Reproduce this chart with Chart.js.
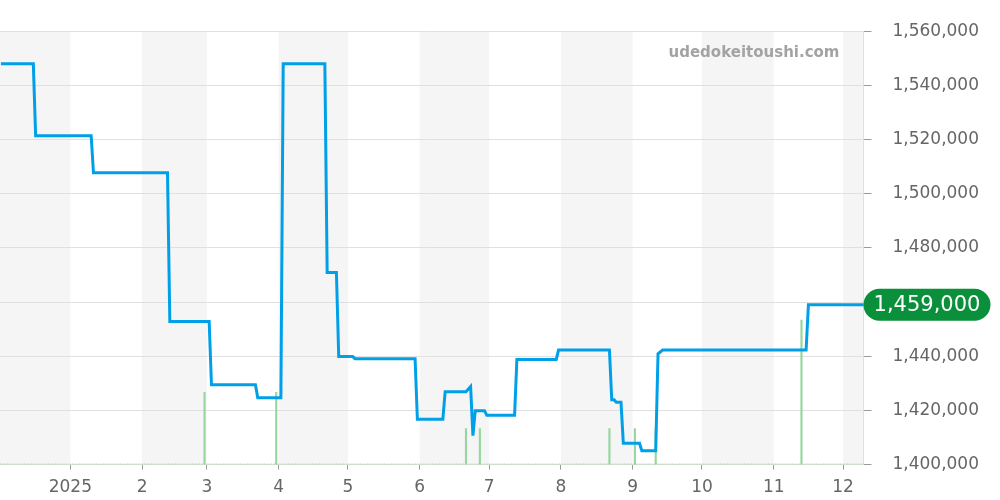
<!DOCTYPE html>
<html>
<head>
<meta charset="utf-8">
<script src="https://cdn.jsdelivr.net/npm/chart.js@4.4.1/dist/chart.umd.min.js"></script>
<style>
  html, body { margin: 0; padding: 0; background: #ffffff; }
  #wrap { width: 1000px; height: 500px; }
</style>
</head>
<body>
<div id="wrap"><canvas id="graficoPreco"></canvas></div>
<script>
const priceDates = [
    '2024-12-02', '2024-12-16', '2024-12-17', '2025-01-10', '2025-01-11',
    '2025-02-12', '2025-02-13', '2025-03-02', '2025-03-03', '2025-03-22',
    '2025-03-23', '2025-04-02', '2025-04-03', '2025-04-21', '2025-04-22',
    '2025-04-26', '2025-04-27', '2025-05-03', '2025-05-04', '2025-05-30',
    '2025-05-31', '2025-06-11', '2025-06-12', '2025-06-21', '2025-06-23',
    '2025-06-24', '2025-06-25', '2025-06-29', '2025-06-30', '2025-07-12',
    '2025-07-13', '2025-07-30', '2025-07-31', '2025-08-22', '2025-08-23',
    '2025-08-24', '2025-08-25', '2025-08-27', '2025-08-28', '2025-09-04',
    '2025-09-05', '2025-09-11', '2025-09-12', '2025-09-14', '2025-11-15',
    '2025-11-16', '2025-12-10'
];
const prices = [
    1548000, 1548000, 1521400, 1521400, 1507700,
    1507700, 1452800, 1452800, 1429500, 1429500,
    1424700, 1424700, 1548000, 1548000, 1470900,
    1470900, 1439900, 1439900, 1439100, 1439100,
    1416700, 1416700, 1426900, 1426900, 1428800,
    1410700, 1419900, 1419900, 1418200, 1418200,
    1438800, 1438800, 1442300, 1442300, 1423900,
    1423900, 1423000, 1423000, 1407900, 1407900,
    1405100, 1405100, 1440900, 1442300, 1442300,
    1459000, 1459000
];

const volumeDates = ['2025-02-28', '2025-03-31', '2025-06-21', '2025-06-27', '2025-08-22', '2025-09-02', '2025-09-11', '2025-11-13'];
const volumes = [2, 2, 1, 1, 1, 1, 1, 4];

const tickDates = ['2025-01-01', '2025-02-01', '2025-03-01', '2025-04-01', '2025-05-01', '2025-06-01',
    '2025-07-01', '2025-08-01', '2025-09-01', '2025-10-01', '2025-11-01', '2025-12-01'];
const tickLabels = ['2025', '2', '3', '4', '5', '6', '7', '8', '9', '10', '11', '12'];

const bandStarts = ['2024-12-01', '2025-02-01', '2025-04-01', '2025-06-01', '2025-08-01', '2025-10-01', '2025-12-01'];
const bandEnds = ['2025-01-01', '2025-03-01', '2025-05-01', '2025-07-01', '2025-09-01', '2025-11-01', '2026-01-01'];

function dayOf(s) {
    const p = s.split('-').map(Number);
    return (Date.UTC(p[0], p[1] - 1, p[2]) - Date.UTC(2025, 0, 1)) / 86400000;
}

const fmt = v => Number(v).toLocaleString('en-US');
const fonte = "'DejaVu Sans', sans-serif";

const bandas = {
    id: 'bandas',
    beforeDraw(chart) {
        const { ctx, chartArea, scales } = chart;
        ctx.save();
        ctx.fillStyle = '#f5f5f5';
        bandStarts.forEach((s, i) => {
            const x1 = Math.max(chartArea.left, scales.x.getPixelForValue(dayOf(s)));
            const x2 = Math.min(chartArea.right, scales.x.getPixelForValue(dayOf(bandEnds[i])));
            if (x2 > x1) ctx.fillRect(x1, chartArea.top, x2 - x1, chartArea.bottom - chartArea.top);
        });
        ctx.restore();
    },
    beforeDatasetsDraw(chart) {
        const { ctx, chartArea } = chart;
        ctx.save();
        // linha pontilhada verde na base
        ctx.strokeStyle = '#b3dcb6';
        ctx.setLineDash([2, 1]);
        ctx.lineWidth = 1;
        ctx.beginPath();
        ctx.moveTo(chartArea.left, chartArea.bottom - 0.5);
        ctx.lineTo(chartArea.right, chartArea.bottom - 0.5);
        ctx.stroke();
        ctx.setLineDash([]);
        ctx.font = "bold 15px " + fonte;
        ctx.fillStyle = '#a3a3a3';
        ctx.textAlign = 'right';
        ctx.textBaseline = 'middle';
        ctx.fillText('udedokeitoushi.com', chartArea.right - 24, chartArea.top + 22);
        ctx.restore();
    },
    afterDraw(chart) {
        const { ctx, chartArea, scales } = chart;
        const ultimo = prices[prices.length - 1];
        const y = scales.y.getPixelForValue(ultimo);
        const x = chartArea.right;
        const w = 127, h = 32, r = 16;
        ctx.save();
        ctx.fillStyle = '#0a8f3b';
        ctx.beginPath();
        ctx.roundRect(x, y - h / 2, w, h, r);
        ctx.fill();
        ctx.font = "21px " + fonte;
        ctx.fillStyle = '#ffffff';
        ctx.textAlign = 'center';
        ctx.textBaseline = 'middle';
        ctx.fillText(fmt(ultimo), x + w / 2, y + 1);
        ctx.restore();
    }
};

new Chart(document.getElementById('graficoPreco'), {
    type: 'line',
    data: {
        datasets: [{
            type: 'line',
            data: priceDates.map((d, i) => ({ x: dayOf(d), y: prices[i] })),
            borderColor: '#00a0e9',
            borderWidth: 3,
            pointRadius: 0,
            tension: 0,
            fill: false,
            yAxisID: 'y',
            order: 0
        }, {
            type: 'bar',
            data: volumeDates.map((d, i) => ({ x: dayOf(d), y: volumes[i] })),
            backgroundColor: '#97d69e',
            borderWidth: 0,
            barThickness: 1.5,
            yAxisID: 'yVol',
            order: 1
        }]
    },
    options: {
        responsive: true,
        maintainAspectRatio: false,
        animation: false,
        layout: { padding: { top: 21, right: 0, bottom: -6, left: 0 } },
        plugins: { legend: { display: false }, tooltip: { enabled: false } },
        scales: {
            x: {
                type: 'linear',
                offset: false,
                min: dayOf('2024-12-02') - 0.4,
                max: dayOf('2025-12-10') - 0.2,
                afterBuildTicks(axis) {
                    axis.ticks = tickDates.map(d => ({ value: dayOf(d) }));
                },
                grid: { display: true, drawOnChartArea: false, offset: false, tickLength: 5, tickColor: '#9a9a9a' },
                border: { display: false },
                ticks: {
                    color: '#666666',
                    padding: 8,
                    maxRotation: 0,
                    autoSkip: false,
                    font: { family: fonte, size: 17 },
                    callback: (v) => {
                        const i = tickDates.findIndex(d => dayOf(d) === v);
                        return i >= 0 ? tickLabels[i] : '';
                    }
                }
            },
            y: {
                position: 'right',
                min: 1400000,
                max: 1560000,
                grid: { color: '#e0e0e0', tickLength: 8, tickColor: '#9a9a9a' },
                border: { display: true, color: '#e0e0e0' },
                ticks: {
                    stepSize: 20000,
                    color: '#666666',
                    padding: 21,
                    font: { family: fonte, size: 17 },
                    callback: v => fmt(v)
                }
            },
            yVol: {
                display: false,
                min: 0,
                max: 12
            }
        }
    },
    plugins: [bandas]
});
</script>
</body>
</html>
